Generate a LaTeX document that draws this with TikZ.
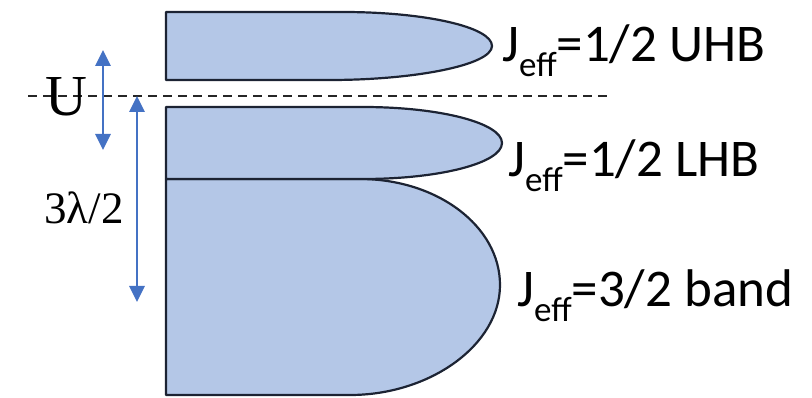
\documentclass[tikz,border=0pt]{standalone}
\usepackage{fontspec}
\setsansfont{Carlito}
\newfontfamily\serifrm{Liberation Serif}
\usetikzlibrary{arrows.meta}
\definecolor{bandfill}{HTML}{B4C7E7}
\definecolor{bandline}{HTML}{1C2333}
\definecolor{gaparrow}{HTML}{4472C4}
\tikzset{
  band/.style   ={draw=bandline, fill=bandfill, line width=2.2pt, line join=round},
  gap/.style    ={{Triangle[length=16pt,width=15pt]}-{Triangle[length=16pt,width=15pt]},
                  draw=gaparrow, line width=2.8pt},
  fermi/.style  ={dashed, dash pattern=on 9pt off 6pt, line width=1.8pt, black!85},
  lbl/.style    ={anchor=base west, inner sep=0pt, font=\sffamily\fontsize{53}{53}\selectfont},
  glbl/.style   ={inner sep=0pt, font=\serifrm},
}
\newcommand{\jeff}{J\raisebox{-0.28em}{\fontsize{35}{35}\selectfont eff}}

\begin{document}
\begin{tikzpicture}[x=1pt,y=-1pt]
  \useasboundingbox (0,0) rectangle (812,398);

  % Jeff=3/2 band
  \draw[band] (166,179) -- (360,179)
     .. controls (437,179) and (500,226) .. (500,285)
     .. controls (500,345) and (430,395) .. (350,395) -- (166,395) -- cycle;
  % lower Hubbard band
  \draw[band] (166,107) -- (363,107)
     .. controls (440,107) and (502,123) .. (502,143)
     .. controls (502,163) and (440,179) .. (363,179) -- (166,179) -- cycle;
  % upper Hubbard band
  \draw[band] (166,12) -- (343,12)
     .. controls (425,12) and (492,27) .. (492,46)
     .. controls (492,65) and (415,80) .. (330,80) -- (166,80) -- cycle;

  % Fermi level
  \coordinate (dl) at (28,96);
  \coordinate (dr) at (612,96);
  \draw[fermi] (dl) -- (dr);

  % gaps
  \coordinate (utop) at (103,50);
  \coordinate (ubot) at (103,150);
  \coordinate (stop) at (137,96);
  \coordinate (sbot) at (137,302);
  \draw[gap] (utop) -- (ubot);
  \draw[gap] (stop) -- (sbot);

  \node[glbl, font=\serifrm\fontsize{58}{58}\selectfont] (u) at (66,97) {U};
  \node[glbl, font=\serifrm\fontsize{45}{45}\selectfont] (soc) at (84,208) {3λ/2};

  \node[lbl] (uhb)  at (502,62)  {\jeff=1/2 UHB};
  \node[lbl] (lhb)  at (508,177) {\jeff=1/2 LHB};
  \node[lbl] (j32)  at (517,307) {\jeff=3/2 band};
\end{tikzpicture}
\end{document}
